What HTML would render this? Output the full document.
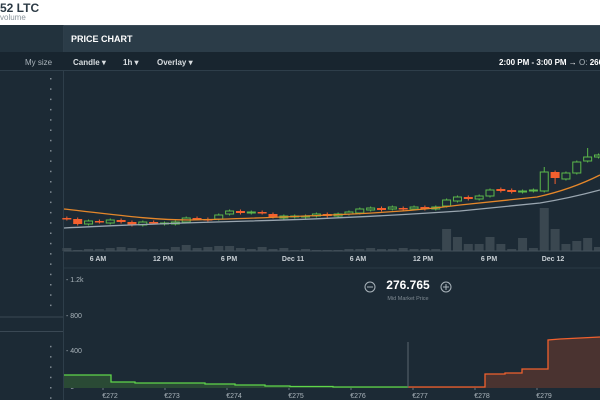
<!DOCTYPE html>
<html><head><meta charset="utf-8"><style>
*{margin:0;padding:0;box-sizing:border-box}
body{width:600px;height:400px;overflow:hidden;background:#fff;font-family:"Liberation Sans",sans-serif;position:relative}
.t{position:absolute;white-space:nowrap}
</style></head><body>
<div class="t" style="left:0;top:1px;font-size:12px;font-weight:bold;color:#2d3b46">52 LTC</div>
<div class="t" style="left:0;top:13px;font-size:8px;color:#8a949c">volume</div>
<div style="position:absolute;left:0;top:25px;width:600px;height:375px;background:#1c2a35"></div>
<div style="position:absolute;left:64px;top:25px;width:536px;height:27px;background:#2b3c48;border-top:1px solid #3a4a56"></div>
<div style="position:absolute;left:0;top:25px;width:63px;height:27px;background:#22323d"></div>
<div style="position:absolute;left:63px;top:25px;width:1px;height:375px;background:#2e3e4a"></div>
<div style="position:absolute;left:0;top:52px;width:600px;height:19px;background:#18252f;border-bottom:1px solid #2e3e4a"></div>
<div class="t" style="left:71px;top:34px;font-size:9px;font-weight:bold;color:#fff">PRICE CHART</div>
<div class="t" style="left:25px;top:58px;font-size:8px;color:#aab4bb">My size</div>
<div class="t" style="left:73px;top:58px;font-size:8px;font-weight:bold;color:#d8dde0">Candle ▾</div>
<div class="t" style="left:123px;top:58px;font-size:8px;font-weight:bold;color:#d8dde0">1h ▾</div>
<div class="t" style="left:157px;top:58px;font-size:8px;font-weight:bold;color:#d8dde0">Overlay ▾</div>
<div class="t" style="left:499px;top:58px;font-size:8px;font-weight:bold;color:#fff">2:00 PM - 3:00 PM → <span style="color:#aab4bb;font-weight:normal">O:</span> 266.0</div>
<svg id="s" width="600" height="400" style="position:absolute;left:0;top:0" font-family="Liberation Sans, sans-serif"></svg>
<script>
var s=document.getElementById('s'),h='';
for(var y=78;y<400;y+=10.3){if(y>312&&y<336)continue;h+='<rect x="50" y="'+y.toFixed(1)+'" width="1.5" height="1.5" fill="#7f8a92"/>';}
h+='<line x1="0" y1="317" x2="63" y2="317" stroke="#3a4854"/><line x1="0" y1="331.5" x2="63" y2="331.5" stroke="#3a4854"/>';
h+='<line x1="64" y1="268" x2="600" y2="268" stroke="#2a3945"/>';
// volume
var v=[2,3,4,3,1,2,2,3,4,3,2,2,2,4,6,3,4,5,5,3,2,4,2,3,1,2,1,1,1,2,2,3,2,2,3,2,2,2,22,14,7,7,14,7,2,13,3,43,22,7,10,13,4];
var x0=70,dx=10.85;
// candles [top,bottom,green]
var c=[[218,219,0],[219,224,0],[221,224,1],[221,222,0],[220,223,1],[220,222,0],[222,225,0],[222,225,1],[222,223,0],[223,224,1],[222,224,1],[218,222,1],[218,219,0],[219,220,0],[215,219,1],[211,214,1],[211,213,0],[212,213,1],[212,213,0],[214,217,0],[216,218,1],[216,217,1],[216,217,1],[214,216,1],[214,216,0],[214,216,1],[212,214,1],[209,213,1],[208,210,1],[208,210,0],[207,209,1],[208,209,0],[207,209,1],[207,209,0],[207,209,1],[200,206,1],[197,201,1],[197,199,0],[196,199,1],[190,196,1],[189,191,0],[190,192,0],[191,192,1],[190,191,1],[172,191,1],[172,178,0],[173,179,1],[162,173,1],[157,161,1],[155,157,1]];
var off=x0;
// align last candles to measured positions
for(var i=0;i<c.length;i++){var x=600-(c.length-1-i)*10.85-1.5;
 if(v[i+3]!==undefined){var hv=v[i+3];h+='<rect x="'+(x-4.5)+'" y="'+(251-hv)+'" width="9" height="'+hv+'" fill="#3a4750"/>';}
 var t=c[i][0],b=c[i][1],g=c[i][2],col=g?'#5bb84a':'#f4602e';
 var wt=t-1.5,wb=b+1.5;if(i==44)wt=167;if(i==45)wb=184;if(i==48)wt=148;
 h+='<line x1="'+x+'" y1="'+wt+'" x2="'+x+'" y2="'+wb+'" stroke="'+col+'"/>';
 if(g)h+='<rect x="'+(x-4)+'" y="'+t+'" width="8" height="'+Math.max(b-t,1)+'" fill="#1c2a35" stroke="'+col+'"/>';
 else h+='<rect x="'+(x-4.5)+'" y="'+t+'" width="9" height="'+Math.max(b-t,1.5)+'" fill="'+col+'"/>';}
h+='<line x1="64" y1="251" x2="600" y2="251" stroke="#44525c"/>';
h+='<path d="M64 209 C110 214 150 220 190 220 C240 219 280 217 330 215 C400 212 430 209 460 205 L537 197 C560 192 580 185 600 175" fill="none" stroke="#e5872a" stroke-width="1.3"/>';
h+='<path d="M64 228 C120 225 180 223 250 221 C330 219 400 215 460 211 L540 203 C565 199 585 194 600 190" fill="none" stroke="#9aa6b0" stroke-width="1.3"/>';
var xl=[[98,'6 AM'],[163,'12 PM'],[229,'6 PM'],[293,'Dec 11'],[358,'6 AM'],[423,'12 PM'],[489,'6 PM'],[553,'Dec 12']];
xl.forEach(function(a){h+='<text x="'+a[0]+'" y="261" font-size="7" font-weight="bold" fill="#c8cfd4" text-anchor="middle">'+a[1]+'</text>';});
// depth
[[282,'1.2k'],[318,'800'],[353,'400'],[389,'0']].forEach(function(a){h+='<text x="66" y="'+a[0]+'" font-size="7" fill="#aab4bb">- '+a[1]+'</text>';});
for(var k=0;k<8;k++){var xx=103+k*62;h+='<text x="'+(xx+7)+'" y="398" font-size="7" fill="#aab4bb" text-anchor="middle">€'+(272+k)+'</text><line x1="'+xx+'" y1="387" x2="'+xx+'" y2="390" stroke="#6a767e"/>';}
var gp='M64 375 L111 375 L111 382 L135 382 L135 383 L205 383 L205 384 L235 384 L235 385 L265 385 L265 386 L290 386 L290 386.5 L333 386.5 L333 387 L408 387';
h+='<path d="'+gp+' L408 388 L64 388Z" fill="#2a4a35"/><path d="'+gp+'" fill="none" stroke="#5fd54a" stroke-width="1.3"/>';
var rp='M408 387 L485 387 L485 374 L505 374 L505 373 L522 373 L522 369 L548 369 L548 340 L560 339 L580 338 L600 337';
h+='<path d="'+rp+' L600 388 L408 388Z" fill="#4a3330"/><path d="'+rp+'" fill="none" stroke="#f0602e" stroke-width="1.3"/>';
h+='<line x1="408" y1="342" x2="408" y2="388" stroke="#5a666e"/>';
h+='<text x="408" y="289" font-size="12" font-weight="bold" fill="#fff" text-anchor="middle">276.765</text>';
h+='<text x="408" y="300" font-size="5.5" fill="#7f8a92" text-anchor="middle">Mid Market Price</text>';
h+='<circle cx="370" cy="287" r="5" fill="none" stroke="#aab4bb"/><line x1="367" y1="287" x2="373" y2="287" stroke="#aab4bb"/>';
h+='<circle cx="446" cy="287" r="5" fill="none" stroke="#aab4bb"/><line x1="443" y1="287" x2="449" y2="287" stroke="#aab4bb"/><line x1="446" y1="284" x2="446" y2="290" stroke="#aab4bb"/>';
s.innerHTML=h;
</script>
</body></html>
